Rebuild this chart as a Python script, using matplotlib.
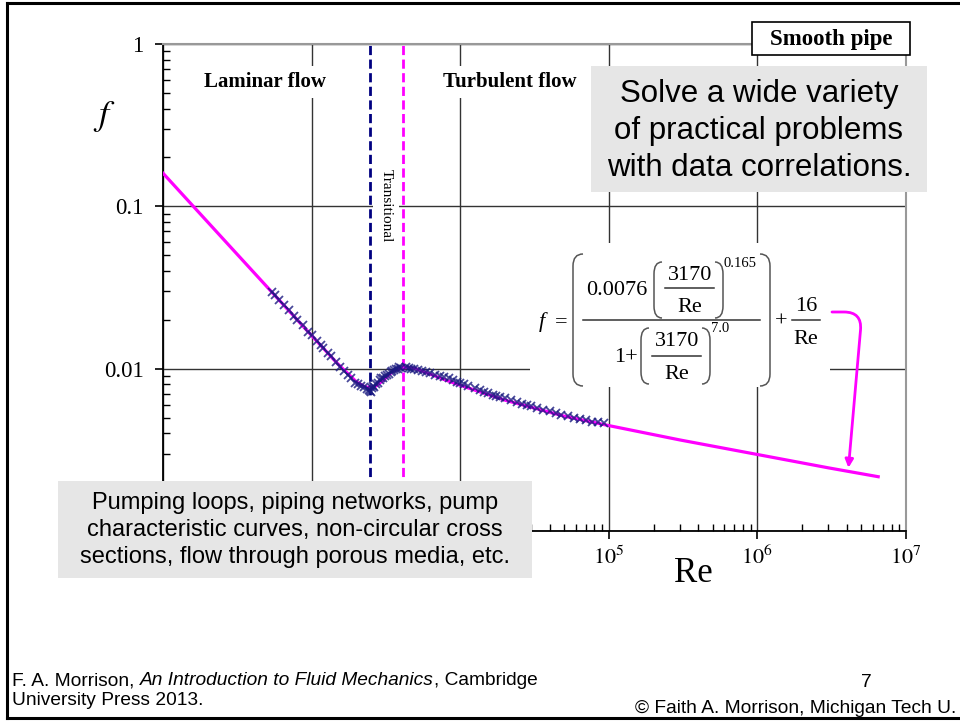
import matplotlib
matplotlib.use("Agg")
import matplotlib.pyplot as plt
import numpy as np
from matplotlib.patches import Rectangle, PathPatch
from matplotlib.path import Path
from matplotlib.lines import Line2D
from matplotlib.transforms import Affine2D
from matplotlib.ticker import FuncFormatter, LogLocator, NullFormatter

plt.rcParams['font.family'] = ['Liberation Serif', 'DejaVu Serif']
plt.rcParams['mathtext.fontset'] = 'stix'

# correlation curve
curve_re = [100, 300, 1000, 1500, 2000, 2300, 2500, 2700, 3000, 3500, 4000, 4500,
            5000, 6000, 8000, 1e4, 2e4, 5e4, 1e5, 3e5, 1e6, 3e6, 6.5e6]
curve_f = [0.160, 0.0533, 0.0160, 0.0107, 0.0083, 0.0077, 0.00766, 0.0078, 0.0084,
           0.0096, 0.0101, 0.0102, 0.0100, 0.0094, 0.0085, 0.0079, 0.0064, 0.0051,
           0.00446, 0.00364, 0.00296, 0.00245, 0.00216]

# experimental points (x markers)
data_re = [540, 570, 600, 650, 700, 760, 800, 870, 950, 1000, 1080, 1150, 1200, 1280,
           1350, 1450, 1550, 1650, 1750, 1850, 1950, 2050, 2150, 2250, 2350, 2420, 2480,
           2500, 2550, 2600, 2650, 2700, 2800, 2900, 2950, 3000, 3100, 3200, 3300, 3400,
           3500, 3600, 3700, 3800, 3900, 4000,
           4300, 4500, 4700, 4900, 5200, 5500, 5900, 6300, 6800, 7300, 7800, 8400, 9000,
           9500, 10000, 10600, 11200, 12500, 13500, 14500, 15500, 16500, 17500, 18500,
           20000, 22000, 24000, 26000, 28000, 30000, 33000, 36000, 40000, 44000, 48000,
           53000, 58000, 64000, 70000, 77000, 85000, 93000]
data_f = [0.0298, 0.0283, 0.0265, 0.0248, 0.0230, 0.0212, 0.0200, 0.0185, 0.0168, 0.0161,
          0.0149, 0.0140, 0.0134, 0.0125, 0.0119, 0.0110, 0.0103, 0.0097, 0.0092, 0.0087,
          0.0082, 0.0080, 0.0078, 0.0077, 0.0075, 0.0074, 0.0073,
          0.0072, 0.0076, 0.0078, 0.0077, 0.0080, 0.0082, 0.0085, 0.0087, 0.0088, 0.0090,
          0.0092, 0.0093, 0.0095, 0.0097, 0.0098, 0.0100, 0.0099, 0.0102, 0.0101,
          0.0102, 0.0101, 0.0100, 0.0099, 0.0098, 0.0097, 0.0095, 0.0094, 0.0092, 0.0090,
          0.0089, 0.0087, 0.0085, 0.0083, 0.0082, 0.0080, 0.0078, 0.0076, 0.0074, 0.0072,
          0.0071, 0.0069, 0.0068, 0.0067, 0.0066, 0.0064, 0.0062, 0.0061, 0.0060, 0.0059,
          0.0057, 0.0056, 0.0055, 0.0053, 0.0052, 0.0051, 0.0050, 0.0049, 0.0048, 0.0047,
          0.0047, 0.0046]

re_laminar_end = 2480
re_turbulent_start = 4150

# tick labels hidden under the grey call-out in the original
hidden_x = [2, 3, 4]
hidden_y = [0.001]

W, H = 960, 721

fig = plt.figure(figsize=(9.6, 7.21), dpi=100)
fig.patch.set_facecolor('white')
# pixel coordinates, origin top-left
P = Affine2D().scale(1.0 / W, -1.0 / H).translate(0, 1) + fig.transFigure


def ptext(x, y, s, **kw):
    return fig.text(x, y, s, transform=P, **kw)


def pline(xs, ys, **kw):
    fig.add_artist(Line2D(xs, ys, transform=P, **kw))


def prect(x0, y0, x1, y1, **kw):
    fig.add_artist(Rectangle((x0, y0), x1 - x0, y1 - y0, transform=P, **kw))


def paren(x0, x1, y0, y1, left=True):
    # tall bracket: rounded ends, straight middle
    r = min(12, (y1 - y0) / 3)
    xo, xi = (x1, x0) if left else (x0, x1)
    verts = [(xo, y0), (xi, y0), (xi, y0 + r), (xi, y1 - r), (xi, y1), (xo, y1)]
    codes = [Path.MOVETO, Path.CURVE3, Path.CURVE3, Path.LINETO, Path.CURVE3, Path.CURVE3]
    fig.add_artist(PathPatch(Path(verts, codes), transform=P, facecolor='none',
                             edgecolor='#555555', lw=1.1))


ax = fig.add_axes([163 / W, 1 - 531 / H, (906 - 163) / W, (531 - 44) / H])
ax.set_xscale('log')
ax.set_yscale('log')
ax.set_xlim(1e2, 1e7)
ax.set_ylim(1e-3, 1)

ax.grid(True, which='major', color='#333333', lw=1)
ax.set_axisbelow(True)

ax.plot(curve_re, curve_f, color='#ff00ff', lw=2.3, zorder=3)
ax.plot(data_re, data_f, 'x', color='#1a1a80', ms=5.5, mew=1.3, alpha=0.8, zorder=4)

ax.axvline(re_laminar_end, color='#000080', lw=2, ls=(0, (3.3, 1.6)), zorder=2)
ax.axvline(re_turbulent_start, color='#ff00ff', lw=2, ls=(0, (3.3, 1.6)), zorder=2)


def xfmt(v, pos):
    n = int(round(np.log10(v)))
    return '' if n in hidden_x else r'$10^{%d}$' % n


def yfmt(v, pos):
    return '' if any(np.isclose(v, h) for h in hidden_y) else '%g' % v


ax.xaxis.set_major_locator(LogLocator(base=10, numticks=10))
ax.yaxis.set_major_locator(LogLocator(base=10, numticks=10))
ax.xaxis.set_minor_locator(LogLocator(base=10, subs=np.arange(2, 10), numticks=50))
ax.yaxis.set_minor_locator(LogLocator(base=10, subs=np.arange(2, 10), numticks=50))
ax.xaxis.set_minor_formatter(NullFormatter())
ax.yaxis.set_minor_formatter(NullFormatter())
ax.xaxis.set_major_formatter(FuncFormatter(xfmt))
ax.yaxis.set_major_formatter(FuncFormatter(yfmt))
ax.tick_params(which='major', direction='out', length=6, width=1.2, labelsize=16)
ax.tick_params(axis='x', which='major', pad=5)
ax.tick_params(axis='y', which='major', pad=8, labelsize=16.5)
ax.tick_params(which='minor', direction='in', length=5, width=1)
ax.tick_params(top=False, right=False)

for side in ['left', 'bottom']:
    ax.spines[side].set_color('black')
    ax.spines[side].set_linewidth(1.3)
for side in ['top', 'right']:
    ax.spines[side].set_color('#999999')
    ax.spines[side].set_linewidth(1.5)

# region labels
white = dict(facecolor='white', edgecolor='none', pad=4)
ptext(265, 82, 'Laminar flow', fontsize=15, fontweight='bold', ha='center', va='center', bbox=white)
ptext(510, 82, 'Turbulent flow', fontsize=15, fontweight='bold', ha='center', va='center', bbox=white)
ptext(386, 206, 'Transitional', fontsize=11, rotation=-90, ha='center', va='center',
      bbox=dict(facecolor='white', edgecolor='none', pad=5))

# axis labels
ptext(104, 117, '$f$', fontsize=26, ha='center', va='center')
ptext(693, 574, 'Re', fontsize=25, ha='center', va='center')

# correlation formula, laid out piece by piece on a white backing
prect(530, 243, 830, 387, facecolor='white', edgecolor='none')
fs, fsup = 16, 10.5
ptext(542, 327, 'f', fontsize=fs, fontstyle='italic', ha='center', va='baseline')
ptext(561, 327, '=', fontsize=fs, ha='center', va='baseline')
paren(573, 583, 254, 386, left=True)
paren(760, 770, 254, 386, left=False)
pline([583, 760], [320, 320], color='#333333', lw=1.1)
# numerator
ptext(617, 295, '0.0076', fontsize=fs, ha='center', va='baseline')
paren(654, 662, 262, 318, left=True)
ptext(690, 280, '3170', fontsize=fs, ha='center', va='baseline')
pline([665, 714], [288, 288], color='#333333', lw=1.1)
ptext(690, 312, 'Re', fontsize=fs, ha='center', va='baseline')
paren(715, 723, 262, 318, left=False)
ptext(740, 267, '0.165', fontsize=fsup, ha='center', va='baseline')
# denominator
ptext(626, 362, '1+', fontsize=fs, ha='center', va='baseline')
paren(641, 649, 328, 384, left=True)
ptext(677, 346, '3170', fontsize=fs, ha='center', va='baseline')
pline([652, 701], [356, 356], color='#333333', lw=1.1)
ptext(677, 379, 'Re', fontsize=fs, ha='center', va='baseline')
paren(702, 710, 328, 384, left=False)
ptext(720, 332, '7.0', fontsize=fsup, ha='center', va='baseline')
# + 16/Re
ptext(781, 327, '+', fontsize=fs, ha='center', va='baseline')
ptext(806, 311, '16', fontsize=fs, ha='center', va='baseline')
pline([792, 820], [320, 320], color='#333333', lw=1.1)
ptext(806, 344, 'Re', fontsize=fs, ha='center', va='baseline')

# arrow from formula down to the curve
ax.annotate('', xy=(4.1e6, 0.00245), xycoords='data',
            xytext=(832 / W, 1 - 312 / H), textcoords='figure fraction',
            arrowprops=dict(arrowstyle='-|>', color='#ff00ff', lw=2, mutation_scale=12,
                            shrinkA=0, shrinkB=0,
                            connectionstyle='angle,angleA=0,angleB=85,rad=18'))

# "Smooth pipe" label
prect(752, 22, 910, 55, facecolor='white', edgecolor='black', lw=1.2)
ptext(831, 39, 'Smooth pipe', fontsize=16.5, fontweight='bold', ha='center', va='center')

# grey call-out boxes
sans = ['Liberation Sans', 'DejaVu Sans']
prect(591, 66, 927, 192, facecolor='#e6e6e6', edgecolor='none')
ptext(759, 131, 'Solve a wide variety\nof practical problems\nwith data correlations.',
      family=sans, fontsize=22.5, ha='center', va='center', linespacing=1.32)

prect(58, 481, 532, 578, facecolor='#e6e6e6', edgecolor='none')
ptext(295, 530, 'Pumping loops, piping networks, pump\ncharacteristic curves, non-circular cross\n'
      'sections, flow through porous media, etc.',
      family=sans, fontsize=17, ha='center', va='center', linespacing=1.3)

# footer
t1 = ptext(12, 685, 'F. A. Morrison, ', family=sans, fontsize=13.8, va='baseline')
t2 = ax.annotate('An Introduction to Fluid Mechanics', xy=(1, 0), xycoords=t1,
                 family=sans, fontsize=13.8, fontstyle='italic', va='bottom', ha='left',
                 annotation_clip=False)
ax.annotate(', Cambridge', xy=(1, 0), xycoords=t2, family=sans, fontsize=13.8,
            va='bottom', ha='left', annotation_clip=False)
ptext(12, 705, 'University Press 2013.', family=sans, fontsize=13.8, va='baseline')
ptext(866, 687, '7', family=sans, fontsize=13.8, ha='center', va='baseline')
ptext(956, 713, '\u00a9 Faith A. Morrison, Michigan Tech U.', family=sans,
      fontsize=13.8, ha='right', va='baseline')

# slide border
for (x0, y0, x1, y1) in [(7, 3, 7, 718), (7, 3, 960, 3), (7, 718, 960, 718)]:
    pline([x0, x1], [y0, y1], color='black', lw=2.2)

fig.savefig('out.png', dpi=100)
